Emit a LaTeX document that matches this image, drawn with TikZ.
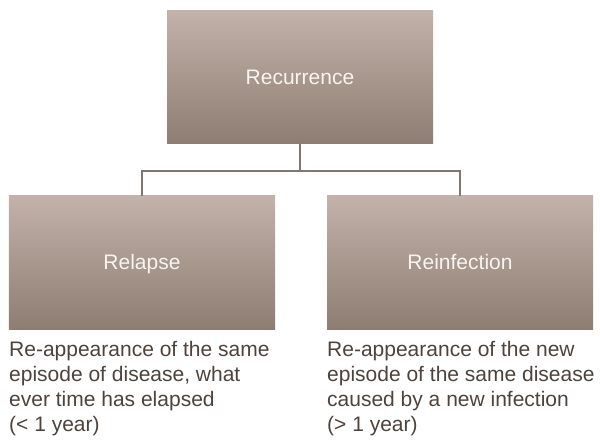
\documentclass[tikz,border=0pt]{standalone}
\usepackage{fontspec}
\setmainfont{Liberation Sans}
\definecolor{boxtop}{RGB}{194,178,169}
\definecolor{boxbot}{RGB}{142,125,114}
\definecolor{linecol}{RGB}{130,118,112}
\definecolor{desccol}{RGB}{78,66,60}
\definecolor{labcol}{RGB}{248,244,242}
\begin{document}
\begin{tikzpicture}[x=1bp,y=-1bp,
  gbox/.style={minimum width=266bp,minimum height=133bp,inner sep=0pt,
    text height=15bp,text depth=0pt,
    top color=boxtop,bottom color=boxbot,draw=none,
    text=labcol,font=\fontsize{21bp}{25bp}\selectfont},
  desc/.style={anchor=north west,inner sep=0pt,align=left,text=desccol,
    font=\fontsize{21bp}{25bp}\selectfont},
  conn/.style={draw=linecol,line width=1.5bp}]
\useasboundingbox (0,0) rectangle (600,440);
\node[gbox] (rec) at (300,77) {Recurrence};
\node[gbox] (rel) at (142,262.5) {Relapse};
\node[gbox] (rei) at (460,262.5) {Reinfection};
\coordinate (j) at (300,171);
\draw[conn] (rec.south) -- (j);
\draw[conn] (rel.north) |- (j) -| (rei.north);
\node[desc] (d1) at (9,341) {Re-appearance of the same\\episode of disease, what\\ever time has elapsed\\(< 1 year)};
\node[desc] (d2) at (327,341) {Re-appearance of the new\\episode of the same disease\\caused by a new infection\\(> 1 year)};
\end{tikzpicture}
\end{document}
